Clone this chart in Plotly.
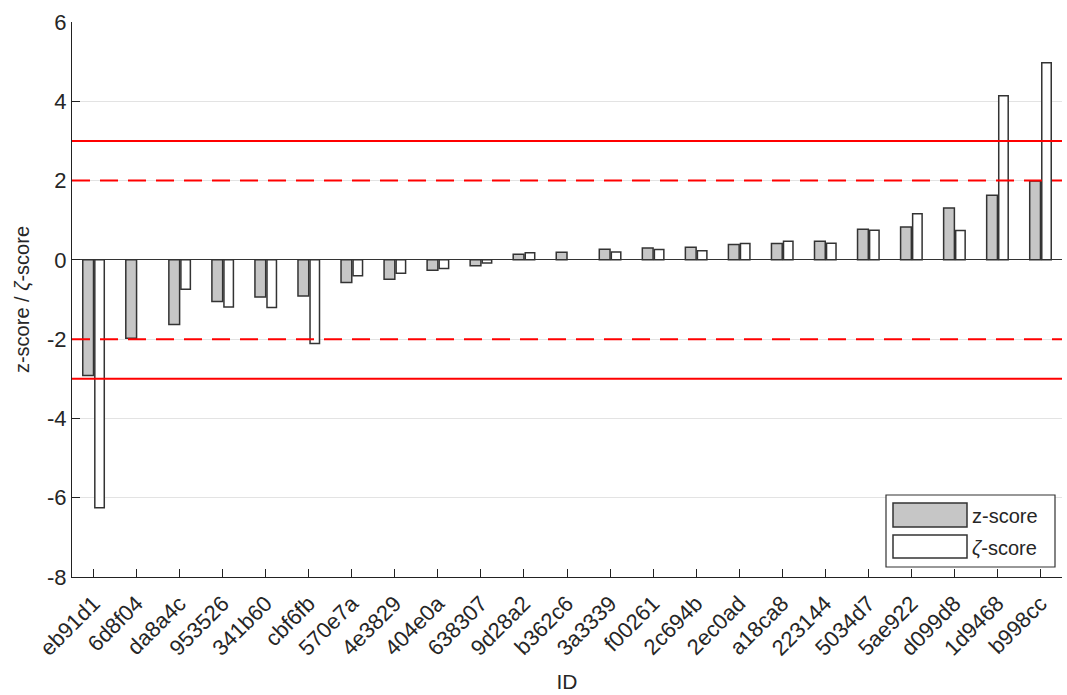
import plotly.graph_objects as go

# Participant IDs, sorted by z-score
ids = ["eb91d1", "6d8f04", "da8a4c", "953526", "341b60", "cbf6fb", "570e7a",
       "4e3829", "404e0a", "638307", "9d28a2", "b362c6", "3a3339", "f00261",
       "2c694b", "2ec0ad", "a18ca8", "223144", "5034d7", "5ae922", "d099d8",
       "1d9468", "b998cc"]

z_scores = [-2.92, -1.98, -1.63, -1.05, -0.94, -0.91, -0.57, -0.49, -0.26, -0.15,
            0.14, 0.19, 0.27, 0.30, 0.32, 0.39, 0.41, 0.47, 0.77, 0.83, 1.31,
            1.63, 1.99]
zeta_scores = [-6.25, None, -0.74, -1.19, -1.20, -2.11, -0.40, -0.34, -0.22, -0.08,
               0.18, None, 0.20, 0.26, 0.23, 0.41, 0.47, 0.42, 0.75, 1.16, 0.74,
               4.14, 4.97]

y_ticks = [-8, -6, -4, -2, 0, 2, 4, 6]
y_tick_text = ["-8", "-6", "-4", "-2", "0", "2", "4", "6"]
limits_solid = [-3, 3]
limits_dashed = [-2, 2]

FONT = "Liberation Sans, Arial, sans-serif"
EDGE = "#333333"
TEXT = "#262626"

fig = go.Figure()
fig.add_trace(go.Bar(x=ids, y=z_scores, name="z-score", width=0.25, offset=-0.25,
                     marker=dict(color="#c6c6c6", line=dict(color=EDGE, width=1.5)),
                     showlegend=False))
fig.add_trace(go.Bar(x=ids, y=zeta_scores, name="ζ-score", width=0.22, offset=0.03,
                     marker=dict(color="white", line=dict(color=EDGE, width=1.5)),
                     showlegend=False))

for v in limits_solid:
    fig.add_hline(y=v, line=dict(color="#ff0000", width=2), layer="above")
for v in limits_dashed:
    fig.add_hline(y=v, line=dict(color="#ff0000", width=2, dash="18px,10px"), layer="above")

# Plot-area geometry in pixels, used to place the legend box
W, H = 1067, 695
L, R, T, B = 72, 5, 22, 118
pw, ph = W - L - R, H - T - B


def px(x):
    return (x - L) / pw


def py(y):
    return (H - B - y) / ph


shapes = [
    dict(type="rect", xref="paper", yref="paper", x0=px(886), x1=px(1055),
         y0=py(567), y1=py(495), line=dict(color=EDGE, width=1.2), fillcolor="white",
         layer="above"),
    dict(type="rect", xref="paper", yref="paper", x0=px(893), x1=px(967),
         y0=py(527), y1=py(503), line=dict(color=EDGE, width=1.5), fillcolor="#c6c6c6",
         layer="above"),
    dict(type="rect", xref="paper", yref="paper", x0=px(893), x1=px(967),
         y0=py(558), y1=py(535), line=dict(color=EDGE, width=1.5), fillcolor="white",
         layer="above"),
]
for s in shapes:
    fig.add_shape(**s)

fig.add_annotation(xref="paper", yref="paper", x=px(970), y=py(516), text="z-score",
                   showarrow=False, xanchor="left", yanchor="middle",
                   font=dict(family=FONT, size=20, color=TEXT))
fig.add_annotation(xref="paper", yref="paper", x=px(970), y=py(548), text="<i>ζ</i>-score",
                   showarrow=False, xanchor="left", yanchor="middle",
                   font=dict(family=FONT, size=20, color=TEXT))

fig.update_layout(
    width=W, height=H,
    margin=dict(l=L, r=R, t=T, b=B),
    plot_bgcolor="white", paper_bgcolor="white",
    font=dict(family=FONT, size=20, color=TEXT),
    barmode="overlay",
)
fig.update_xaxes(
    type="category", range=[-0.5, len(ids) - 0.5],
    tickangle=-45, ticks="inside", ticklen=8, tickcolor="#222",
    showline=True, linecolor="#222", linewidth=1, mirror=False,
    showgrid=False, tickfont=dict(size=22), ticklabelstandoff=4,
    title=dict(text="ID", font=dict(size=21), standoff=14),
)
fig.update_yaxes(
    range=[-8, 6], tickvals=y_ticks, ticktext=y_tick_text,
    ticks="inside", ticklen=8, tickcolor="#222",
    showline=True, linecolor="#222", linewidth=1,
    showgrid=True, gridcolor="#e3e3e3", gridwidth=1,
    zeroline=True, zerolinecolor="#333", zerolinewidth=1.2,
    tickfont=dict(size=22),
    title=dict(text="z-score / <i>ζ</i>-score", font=dict(size=20), standoff=12),
)

fig.write_html("out.html")
